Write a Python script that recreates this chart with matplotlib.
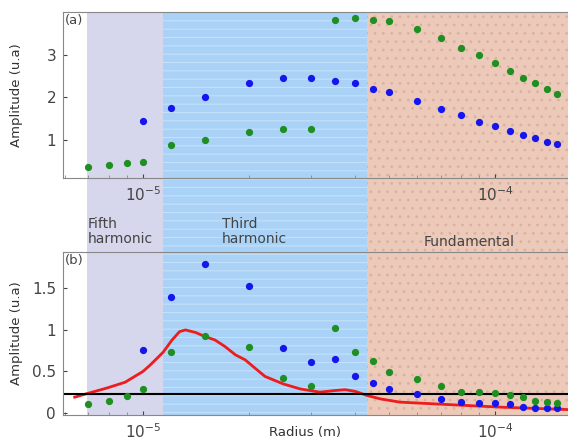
import numpy as np
import matplotlib
matplotlib.use("Agg")
import matplotlib.pyplot as plt
from matplotlib.ticker import LogLocator, NullFormatter

# radii (m) of the blue / green series
r_blue = [10e-6, 12e-6, 15e-6, 20e-6, 25e-6, 30e-6, 35e-6, 40e-6, 45e-6, 50e-6,
          60e-6, 70e-6, 80e-6, 90e-6, 100e-6, 110e-6, 120e-6, 130e-6, 140e-6, 150e-6]
r_green = [7e-6, 8e-6, 9e-6] + r_blue

# panel (a)
a_blue = [1.45, 1.75, 2.01, 2.34, 2.44, 2.44, 2.39, 2.32, 2.20, 2.11,
          1.92, 1.73, 1.59, 1.42, 1.31, 1.21, 1.12, 1.05, 0.95, 0.91]
a_green = [0.36, 0.41, 0.46, 0.48, 0.88, 1.00, 1.19, 1.26, 1.26, 3.82, 3.85, 3.82, 3.78,
           3.61, 3.40, 3.16, 2.98, 2.79, 2.62, 2.44, 2.32, 2.20, 2.08]

# panel (b)
b_blue = [0.76, 1.40, 1.80, 1.53, 0.78, 0.61, 0.65, 0.45, 0.36, 0.29,
          0.23, 0.17, 0.13, 0.12, 0.12, 0.11, 0.07, 0.06, 0.06, 0.06]
b_green = [0.11, 0.14, 0.20, 0.29, 0.73, 0.93, 0.80, 0.42, 0.33, 1.02, 0.73, 0.63, 0.49,
           0.41, 0.33, 0.25, 0.25, 0.24, 0.22, 0.19, 0.14, 0.13, 0.12]

# red curve of panel (b)
r_curve = [6.4e-6, 6.9e-6, 7.9e-6, 8.9e-6, 1.0e-5, 1.05e-5, 1.14e-5, 1.21e-5, 1.27e-5,
           1.32e-5, 1.41e-5, 1.50e-5, 1.60e-5, 1.71e-5, 1.83e-5, 1.95e-5, 2.08e-5,
           2.22e-5, 2.50e-5, 2.79e-5, 3.18e-5, 3.51e-5, 3.75e-5, 4.0e-5, 4.33e-5,
           4.71e-5, 5.36e-5, 7.4e-5, 1.03e-4, 1.61e-4]
a_curve = [0.19, 0.23, 0.30, 0.37, 0.50, 0.58, 0.73, 0.88, 0.98, 1.00, 0.97, 0.92,
           0.88, 0.80, 0.70, 0.64, 0.54, 0.44, 0.35, 0.29, 0.25, 0.27, 0.28, 0.26,
           0.21, 0.17, 0.13, 0.10, 0.07, 0.04]

threshold = 0.23

# regions: start, end, colour, hatch colour, hatch, label
regions = [(6.95e-6, 1.14e-5, "#d6d6ec", "#d6d6ec", None, "Fifth\nharmonic"),
           (1.14e-5, 4.33e-5, "#a9d2f6", "#c4e0fa", "--", "Third\nharmonic"),
           (4.33e-5, 1.61e-4, "#ecc9b8", "#d9b3a2", "..", "Fundamental")]

xlim = (5.93e-6, 1.61e-4)

plt.rcParams["hatch.linewidth"] = 0.8
fig = plt.figure(figsize=(5.68, 4.41), dpi=100)

# background bands across both panels
bg = fig.add_axes([0.111, 0.0567, 0.889, 0.9161])
bg.set_xscale("log")
bg.set_xlim(xlim)
bg.set_ylim(0, 1)
for x0, x1, c, hc, h, _ in regions:
    bg.axvspan(x0, x1, facecolor=c, edgecolor=hc, hatch=h, lw=0)
bg.axis("off")

ax1 = fig.add_axes([0.111, 0.5964, 0.889, 0.3764])
ax2 = fig.add_axes([0.111, 0.059, 0.889, 0.3696])

for ax in (ax1, ax2):
    ax.set_facecolor("none")
    ax.set_xscale("log")
    ax.set_xlim(xlim)
    ax.xaxis.set_major_locator(LogLocator(base=10))
    ax.xaxis.set_minor_locator(LogLocator(base=10, subs=np.arange(2, 10)))
    ax.xaxis.set_minor_formatter(NullFormatter())
    ax.tick_params(direction="in", labelsize=11, colors="#444444", length=3, pad=5)
    ax.tick_params(which="minor", direction="in", length=2, colors="#888888")
    for s in ax.spines.values():
        s.set_color("#888888")
    ax.spines["right"].set_visible(False)
    ax.set_ylabel("Amplitude (u.a)", fontsize=9.5, color="#333333")
    ax.yaxis.set_label_coords(-0.08, 0.5)

ax1.plot(r_blue, a_blue, "o", color="#1515ee", ms=4.2)
ax1.plot(r_green, a_green, "o", color="#1f8f22", ms=4.2)
ax1.set_ylim(0.1, 4.0)
ax1.set_yticks([1, 2, 3])
ax1.text(0.004, 0.985, "(a)", transform=ax1.transAxes, ha="left", va="top",
         fontsize=9.5, color="#444444")

ax2.plot(r_curve, a_curve, color="#ee1c1c", lw=2)
ax2.axhline(threshold, color="black", lw=1.5)
ax2.plot(r_blue, b_blue, "o", color="#1515ee", ms=4.2)
ax2.plot(r_green, b_green, "o", color="#1f8f22", ms=4.2)
ax2.set_ylim(-0.025, 1.94)
ax2.set_yticks([0, 0.5, 1, 1.5])
ax2.set_yticklabels(["0", "0.5", "1", "1.5"])
ax2.text(0.004, 0.985, "(b)", transform=ax2.transAxes, ha="left", va="top",
         fontsize=9.5, color="#444444")
fig.text(0.537, 0.02, "Radius (m)", fontsize=9.5, color="#333333", ha="center", va="center")

# region labels in the gap between panels
fig.text(0.155, 0.475, regions[0][5], fontsize=10, color="#444444", va="center", linespacing=1.15)
fig.text(0.39, 0.475, regions[1][5], fontsize=10, color="#444444", va="center", linespacing=1.15)
fig.text(0.745, 0.452, regions[2][5], fontsize=10, color="#444444", va="center")

fig.savefig("out.png", dpi=100)
